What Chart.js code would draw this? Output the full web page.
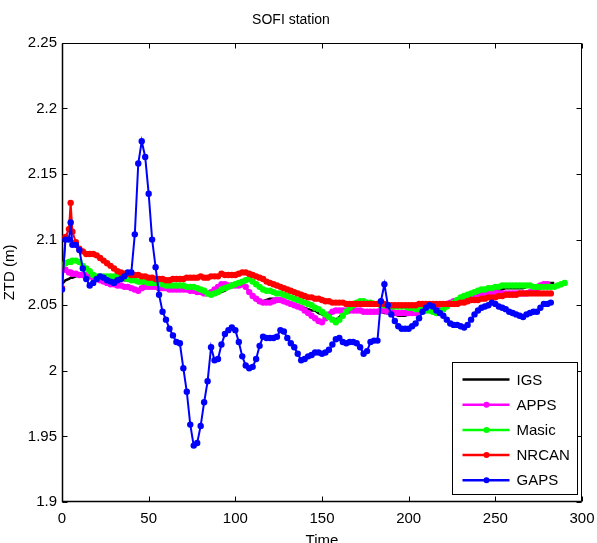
<!DOCTYPE html>
<html><head><meta charset="utf-8">
<script src="https://cdn.jsdelivr.net/npm/chart.js@4"></script>
<style>html,body{margin:0;padding:0;background:#fff;overflow:hidden}</style>
</head><body>
<canvas id="c" width="597" height="543"></canvas>
<script>
const chartTitle = 'SOFI station';
const xTitle = 'Time';
const yTitle = 'ZTD (m)';
const seriesNames = ['IGS', 'APPS', 'Masic', 'NRCAN', 'GAPS'];
const seriesColors = ['#000000', '#ff00ff', '#00ff00', '#ff0000', '#0000ff'];
const xTicks = [0, 50, 100, 150, 200, 250, 300];
const yTicks = [1.9, 1.95, 2, 2.05, 2.1, 2.15, 2.2, 2.25];

const times = [
  0, 2, 4, 5, 6, 8, 10, 12, 14, 16,
  18, 20, 22, 24, 26, 28, 30, 32, 34, 36,
  38, 40, 42, 44, 46, 48, 50, 52, 54, 56,
  58, 60, 62, 64, 66, 68, 70, 72, 74, 76,
  78, 80, 82, 84, 86, 88, 90, 92, 94, 96,
  98, 100, 102, 104, 106, 108, 110, 112, 114, 116,
  118, 120, 122, 124, 126, 128, 130, 132, 134, 136,
  138, 140, 142, 144, 146, 148, 150, 152, 154, 156,
  158, 160, 162, 164, 166, 168, 170, 172, 174, 176,
  178, 180, 182, 184, 186, 188, 190, 192, 194, 196,
  198, 200, 202, 204, 206, 208, 210, 212, 214, 216,
  218, 220, 222, 224, 226, 228, 230, 232, 234, 236,
  238, 240, 242, 244, 246, 248, 250, 252, 254, 256,
  258, 260, 262, 264, 266, 268, 270, 272, 274, 276,
  278, 280, 282, 284, 286, 288, 290
];

const igs = [
  2.066, 2.069, 2.070, 2.071, 2.071, 2.072, 2.073, 2.073, 2.073, 2.073,
  2.072, 2.071, 2.071, 2.070, 2.070, 2.070, 2.070, 2.070, 2.070, 2.069,
  2.069, 2.068, 2.068, 2.067, 2.067, 2.066, 2.066, 2.066, 2.066, 2.065,
  2.065, 2.064, 2.064, 2.064, 2.064, 2.064, 2.063, 2.063, 2.063, 2.062,
  2.061, 2.060, 2.059, 2.058, 2.058, 2.059, 2.060, 2.060, 2.061, 2.063,
  2.064, 2.066, 2.066, 2.066, 2.064, 2.060, 2.057, 2.054, 2.052, 2.053,
  2.054, 2.055, 2.055, 2.055, 2.054, 2.053, 2.052, 2.051, 2.050, 2.049,
  2.049, 2.048, 2.047, 2.046, 2.046, 2.044, 2.043, 2.042, 2.040, 2.039,
  2.039, 2.041, 2.044, 2.046, 2.047, 2.047, 2.046, 2.046, 2.045, 2.045,
  2.045, 2.045, 2.045, 2.045, 2.044, 2.044, 2.043, 2.043, 2.042, 2.042,
  2.042, 2.043, 2.044, 2.045, 2.046, 2.047, 2.047, 2.047, 2.047, 2.047,
  2.048, 2.049, 2.050, 2.051, 2.052, 2.053, 2.054, 2.055, 2.056, 2.057,
  2.058, 2.059, 2.060, 2.060, 2.061, 2.061, 2.062, 2.062, 2.062, 2.063,
  2.063, 2.063, 2.063, 2.063, 2.063, 2.064, 2.064, 2.064, 2.065, 2.066,
  2.067, 2.067, 2.067, 2.067, null, null, null
];

const apps = [
  2.077, 2.077, 2.075, 2.075, 2.074, 2.074, 2.073, 2.073, 2.073, 2.072,
  2.071, 2.070, 2.069, 2.068, 2.067, 2.066, 2.066, 2.065, 2.065, 2.064,
  2.064, 2.063, 2.062, 2.061, 2.063, 2.064, 2.064, 2.064, 2.064, 2.063,
  2.063, 2.063, 2.062, 2.062, 2.062, 2.062, 2.062, 2.062, 2.061, 2.061,
  2.060, 2.060, 2.059, 2.059, 2.060, 2.062, 2.064, 2.066, 2.066, 2.065,
  2.065, 2.065, 2.065, 2.066, 2.064, 2.060, 2.057, 2.055, 2.053, 2.052,
  2.052, 2.052, 2.053, 2.054, 2.054, 2.053, 2.052, 2.051, 2.050, 2.049,
  2.048, 2.046, 2.044, 2.042, 2.040, 2.038, 2.037, 2.040, 2.043, 2.045,
  2.046, 2.046, 2.046, 2.046, 2.046, 2.046, 2.046, 2.046, 2.045, 2.045,
  2.045, 2.045, 2.045, 2.046, 2.046, 2.045, 2.045, 2.044, 2.044, 2.044,
  2.044, 2.044, 2.044, 2.044, 2.045, 2.046, 2.047, 2.048, 2.049, 2.049,
  2.050, 2.050, 2.051, 2.052, 2.053, 2.053, 2.054, 2.054, 2.055, 2.055,
  2.056, 2.057, 2.058, 2.059, 2.060, 2.060, 2.060, 2.059, 2.059, 2.059,
  2.059, 2.059, 2.059, 2.059, 2.059, 2.059, 2.060, 2.061, 2.063, 2.065,
  2.066, 2.066, null, null, null, null, null
];

const masic = [
  2.080, 2.082, 2.083, 2.083, 2.084, 2.084, 2.083, 2.080, 2.078, 2.076,
  2.073, 2.072, 2.072, 2.072, 2.072, 2.072, 2.072, 2.072, 2.072, 2.071,
  2.070, 2.069, 2.069, 2.068, 2.068, 2.068, 2.067, 2.067, 2.067, 2.067,
  2.066, 2.065, 2.065, 2.065, 2.065, 2.065, 2.065, 2.064, 2.064, 2.064,
  2.063, 2.062, 2.061, 2.059, 2.058, 2.059, 2.060, 2.062, 2.063, 2.064,
  2.065, 2.066, 2.067, 2.068, 2.069, 2.070, 2.068, 2.066, 2.064, 2.062,
  2.061, 2.061, 2.060, 2.059, 2.059, 2.058, 2.057, 2.056, 2.055, 2.054,
  2.053, 2.052, 2.051, 2.050, 2.048, 2.047, 2.045, 2.043, 2.041, 2.039,
  2.037, 2.039, 2.042, 2.045, 2.048, 2.050, 2.052, 2.053, 2.053, 2.052,
  2.052, 2.051, 2.051, 2.050, 2.050, 2.050, 2.049, 2.049, 2.049, 2.049,
  2.049, 2.048, 2.048, 2.047, 2.047, 2.047, 2.046, 2.046, 2.045, 2.044,
  2.045, 2.047, 2.049, 2.051, 2.052, 2.054, 2.056, 2.057, 2.058, 2.059,
  2.060, 2.061, 2.062, 2.062, 2.063, 2.063, 2.064, 2.064, 2.065, 2.065,
  2.065, 2.065, 2.065, 2.065, 2.065, 2.065, 2.065, 2.064, 2.064, 2.064,
  2.064, 2.064, 2.064, 2.064, 2.065, 2.066, 2.067
];

const nrcan = [
  2.063, 2.102, 2.108, 2.128, 2.106, 2.098, 2.093, 2.091, 2.089, 2.089,
  2.089, 2.088, 2.086, 2.084, 2.082, 2.080, 2.078, 2.076, 2.075, 2.074,
  2.074, 2.073, 2.073, 2.073, 2.072, 2.072, 2.071, 2.071, 2.070, 2.070,
  2.070, 2.069, 2.069, 2.070, 2.070, 2.070, 2.070, 2.071, 2.071, 2.071,
  2.071, 2.072, 2.071, 2.071, 2.072, 2.072, 2.072, 2.074, 2.073, 2.073,
  2.073, 2.073, 2.074, 2.075, 2.075, 2.074, 2.073, 2.072, 2.071, 2.070,
  2.068, 2.067, 2.066, 2.065, 2.064, 2.063, 2.062, 2.061, 2.060, 2.059,
  2.058, 2.057, 2.056, 2.056, 2.055, 2.055, 2.054, 2.053, 2.053, 2.052,
  2.052, 2.052, 2.052, 2.051, 2.051, 2.051, 2.051, 2.051, 2.051, 2.051,
  2.051, 2.051, 2.051, 2.051, 2.051, 2.050, 2.050, 2.050, 2.050, 2.050,
  2.050, 2.050, 2.050, 2.050, 2.051, 2.051, 2.051, 2.051, 2.051, 2.051,
  2.051, 2.051, 2.051, 2.051, 2.051, 2.051, 2.052, 2.052, 2.053, 2.054,
  2.054, 2.054, 2.055, 2.055, 2.056, 2.056, 2.056, 2.057, 2.057, 2.058,
  2.058, 2.058, 2.058, 2.059, 2.059, 2.059, 2.059, 2.059, 2.059, 2.059,
  2.059, 2.059, 2.059, null, null, null, null
];

const gaps = [
  2.062, 2.100, 2.100, 2.113, 2.096, 2.096, 2.092, 2.078, 2.070, 2.065,
  2.067, 2.070, 2.072, 2.071, 2.069, 2.068, 2.067, 2.069, 2.070, 2.072,
  2.075, 2.075, 2.104, 2.158, 2.175, 2.163, 2.135, 2.100, 2.079, 2.058,
  2.045, 2.039, 2.032, 2.027, 2.022, 2.021, 2.002, 1.984, 1.959, 1.943,
  1.945, 1.958, 1.976, 1.992, 2.018, 2.008, 2.009, 2.020, 2.028, 2.031,
  2.033, 2.031, 2.022, 2.011, 2.004, 2.002, 2.003, 2.009, 2.019, 2.026,
  2.025, 2.025, 2.025, 2.026, 2.031, 2.030, 2.025, 2.021, 2.018, 2.013,
  2.008, 2.009, 2.011, 2.012, 2.014, 2.014, 2.013, 2.014, 2.016, 2.020,
  2.024, 2.025, 2.022, 2.021, 2.022, 2.022, 2.021, 2.018, 2.013, 2.015,
  2.022, 2.023, 2.023, 2.053, 2.066, 2.050, 2.043, 2.038, 2.034, 2.032,
  2.032, 2.032, 2.034, 2.036, 2.040, 2.045, 2.048, 2.050, 2.049, 2.046,
  2.044, 2.042, 2.039, 2.036, 2.035, 2.035, 2.034, 2.033, 2.035, 2.039,
  2.043, 2.046, 2.048, 2.049, 2.050, 2.052, 2.051, 2.049, 2.048, 2.047,
  2.045, 2.044, 2.043, 2.042, 2.041, 2.043, 2.044, 2.045, 2.045, 2.048,
  2.051, 2.051, 2.052, null, null, null, null
];

const seriesValues = [igs, apps, masic, nrcan, gaps];
const FONT = 'Arial, "Liberation Sans", Helvetica, sans-serif';

const datasets = seriesValues.map((vals, i) => ({
  label: seriesNames[i],
  data: times.map((t, j) => ({ x: t, y: vals[j] })),
  borderColor: seriesColors[i],
  backgroundColor: seriesColors[i],
  pointBackgroundColor: seriesColors[i],
  pointBorderWidth: 0,
  borderWidth: i === 0 ? 2.5 : 2,
  pointRadius: i === 0 ? 0 : 3.2,
  pointHoverRadius: 0,
  tension: 0,
  spanGaps: false,
  order: seriesNames.length - i
}));

const frameTicks = {
  id: 'frameTicks',
  beforeDatasetsDraw(chart) {
    const { ctx, chartArea: ca } = chart;
    const xs = chart.scales.x, ys = chart.scales.y;
    ctx.save();
    ctx.strokeStyle = '#000';
    ctx.lineWidth = 1;
    const L = Math.round(ca.left) + 0.5, R = Math.round(ca.right) - 0.5;
    const T = Math.round(ca.top) + 0.5, B = Math.round(ca.bottom) - 0.5;
    ctx.beginPath();
    ctx.rect(L, T, R - L, B - T);
    ctx.stroke();
    ctx.lineWidth = 1.5;
    ctx.beginPath();
    ctx.moveTo(L, T); ctx.lineTo(L, B); ctx.lineTo(R, B);
    ctx.stroke();
    ctx.lineWidth = 1;
    const tl = 5;
    ctx.beginPath();
    xTicks.forEach(v => {
      const p = Math.round(xs.getPixelForValue(v)) + 0.5;
      ctx.moveTo(p, B); ctx.lineTo(p, B - tl);
      ctx.moveTo(p, T); ctx.lineTo(p, T + tl);
    });
    yTicks.forEach(v => {
      const p = Math.round(ys.getPixelForValue(v)) + 0.5;
      ctx.moveTo(L, p); ctx.lineTo(L + tl, p);
      ctx.moveTo(R, p); ctx.lineTo(R - tl, p);
    });
    ctx.stroke();
    ctx.restore();
  }
};

const boxLegend = {
  id: 'boxLegend',
  afterDatasetsDraw(chart) {
    const { ctx, chartArea: ca } = chart;
    const w = 125, h = 132;
    const x0 = Math.round(ca.right - 5 - w) + 0.5;
    const y0 = Math.round(ca.bottom - 8 - h) + 0.5;
    ctx.save();
    ctx.fillStyle = '#fff';
    ctx.fillRect(x0, y0, w, h);
    ctx.strokeStyle = '#000';
    ctx.lineWidth = 1;
    ctx.strokeRect(x0, y0, w, h);
    ctx.font = '15px ' + FONT;
    ctx.textBaseline = 'middle';
    ctx.textAlign = 'left';
    seriesNames.forEach((name, i) => {
      const cy = y0 + 17 + i * 25.2;
      ctx.strokeStyle = seriesColors[i];
      ctx.lineWidth = 2.5;
      ctx.beginPath();
      ctx.moveTo(x0 + 10, cy); ctx.lineTo(x0 + 57, cy);
      ctx.stroke();
      if (i > 0) {
        ctx.fillStyle = seriesColors[i];
        ctx.beginPath();
        ctx.arc(x0 + 34, cy, 3, 0, Math.PI * 2);
        ctx.fill();
      }
      ctx.fillStyle = '#000';
      ctx.fillText(name, x0 + 64, cy + 1);
    });
    ctx.restore();
  }
};

new Chart(document.getElementById('c'), {
  type: 'line',
  data: { datasets },
  options: {
    responsive: false,
    animation: false,
    devicePixelRatio: 1,
    events: [],
    layout: { autoPadding: false, padding: { top: 0, left: 0, right: 15, bottom: 0 } },
    plugins: {
      legend: { display: false },
      tooltip: { enabled: false },
      title: {
        display: true,
        text: chartTitle,
        color: '#000',
        font: { family: FONT, size: 14, weight: 'normal', lineHeight: 1.2 },
        padding: { top: 12, bottom: 14 }
      }
    },
    scales: {
      x: {
        type: 'linear',
        min: 0, max: 300,
        afterFit(s) { s.height = 41; s.paddingLeft = 0; s.paddingRight = 0; },
        afterBuildTicks(s) { s.ticks = xTicks.map(v => ({ value: v })); },
        grid: { display: false, drawTicks: false },
        border: { display: false },
        ticks: { color: '#000', font: { family: FONT, size: 15 }, padding: 8, maxRotation: 0, autoSkip: false },
        title: { display: true, text: xTitle, color: '#000', font: { family: FONT, size: 15 }, padding: { top: 0, bottom: -7 } }
      },
      y: {
        type: 'linear',
        min: 1.9, max: 2.25,
        afterFit(s) { s.width = 62; s.paddingTop = 0; s.paddingBottom = 0; },
        afterBuildTicks(s) { s.ticks = yTicks.map(v => ({ value: v })); },
        grid: { display: false, drawTicks: false },
        border: { display: false },
        ticks: { color: '#000', font: { family: FONT, size: 15 }, padding: 5, autoSkip: false,
          callback: v => String(Number(v.toFixed(2))) },
        title: { display: true, text: yTitle, color: '#000', font: { family: FONT, size: 15 }, padding: { top: 1, bottom: 0 } }
      }
    }
  },
  plugins: [frameTicks, boxLegend]
});
</script>
</body></html>
